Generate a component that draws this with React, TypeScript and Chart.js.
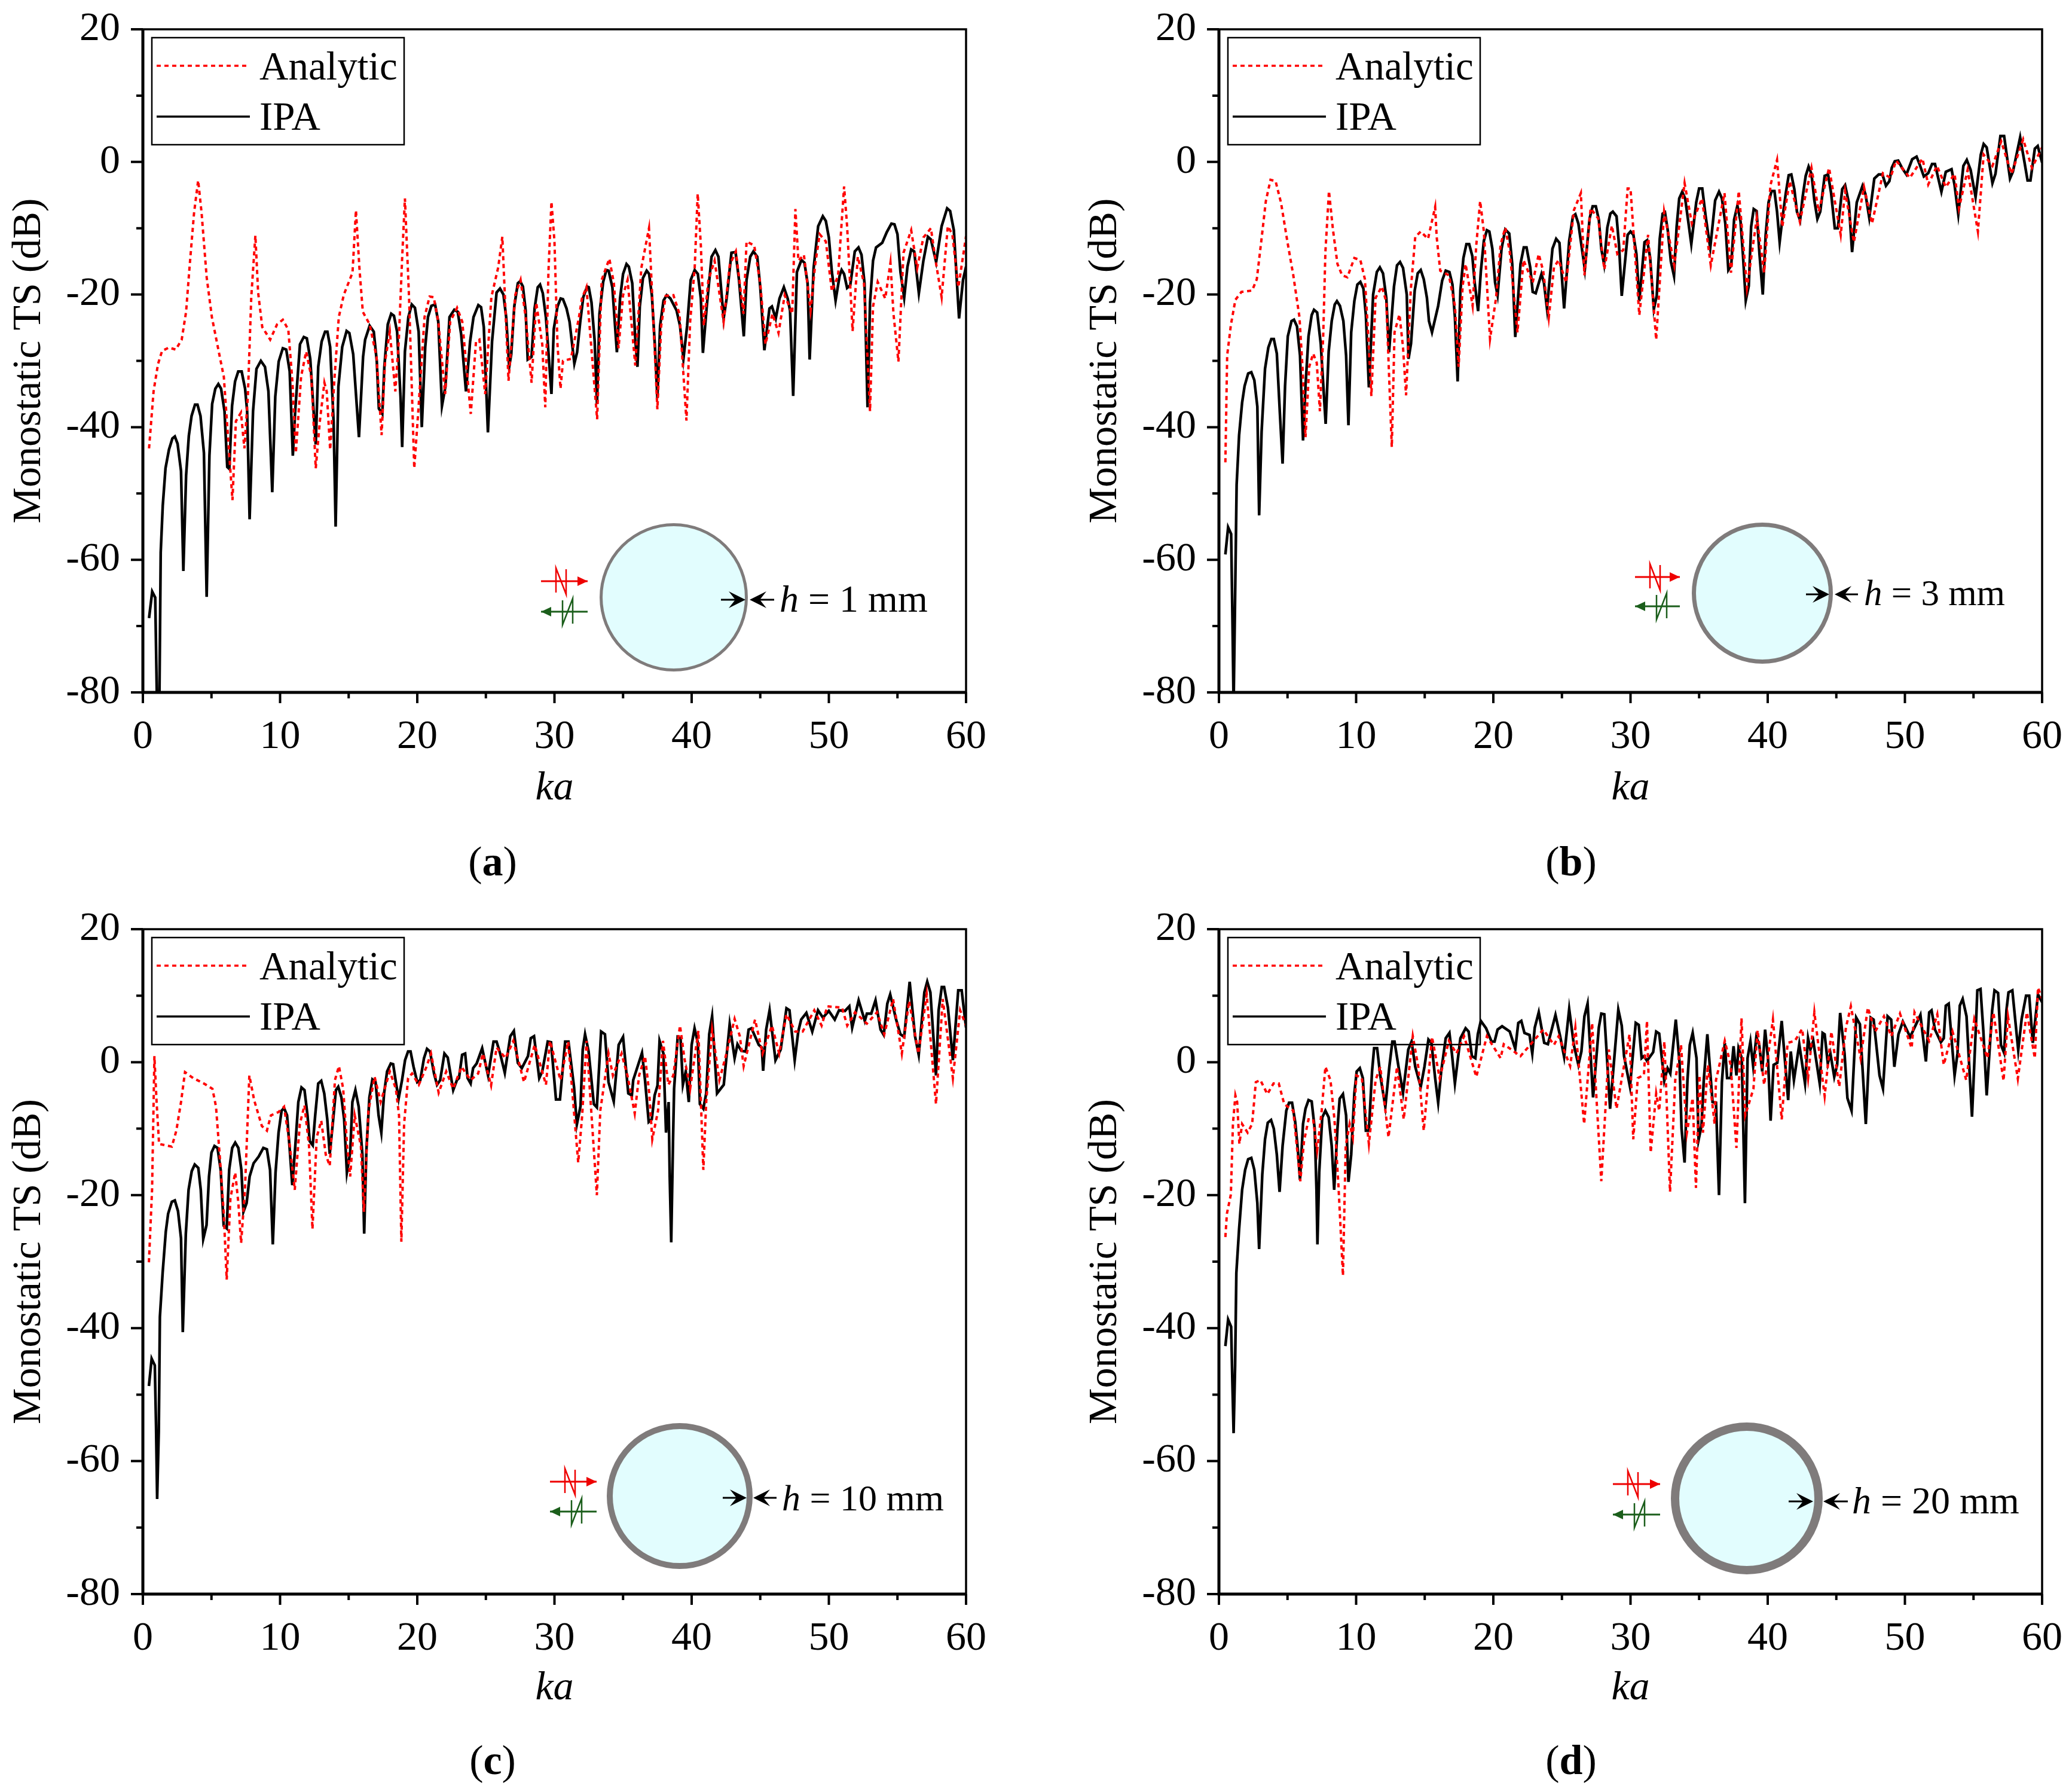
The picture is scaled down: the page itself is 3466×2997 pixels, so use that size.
import React, { useEffect, useRef } from 'react';
import { Chart, registerables } from 'chart.js';

Chart.register(...registerables);

type Pt = [number, number];

// values: [ka, TS in dB]
const ipaA: Pt[] = [[.45,-68.8],[.68,-64.8],[.9,-65.7],[1.03,-82],[1.2,-82],[1.3,-58.9],[1.45,-51.8],[1.65,-46.2],[1.9,-43.4],[2.15,-41.7],[2.33,-41.4],[2.53,-42.5],[2.78,-46.6],[2.95,-61.7],[3.15,-47.3],[3.35,-41.3],[3.55,-38.3],[3.8,-36.6],[3.98,-36.6],[4.2,-38.3],[4.45,-43.9],[4.65,-65.6],[4.85,-44.3],[5.05,-36.5],[5.28,-34.2],[5.5,-33.5],[5.7,-34.2],[5.95,-37.6],[6.15,-46],[6.3,-46.3],[6.5,-36.8],[6.72,-33.1],[6.95,-31.6],[7.2,-31.6],[7.45,-34.2],[7.6,-37.6],[7.78,-53.9],[8.03,-37.6],[8.28,-31.2],[8.6,-30],[8.9,-30.9],[9.15,-34.6],[9.43,-49.8],[9.65,-35.4],[9.9,-30.1],[10.2,-28.1],[10.45,-28.3],[10.7,-31.6],[10.93,-44.3],[11.1,-37.6],[11.45,-27.5],[11.73,-26.4],[11.95,-26.6],[12.2,-29.7],[12.6,-42.6],[12.78,-30.9],[13.03,-27.1],[13.28,-25.6],[13.45,-25.6],[13.65,-27.9],[13.9,-39.1],[14.05,-55],[14.25,-33.9],[14.53,-27.9],[14.85,-25.5],[15.05,-25.8],[15.33,-29],[15.75,-41.5],[16.05,-29.4],[16.2,-26.8],[16.53,-24.7],[16.83,-25.6],[17.05,-30.1],[17.2,-37.2],[17.45,-38],[17.6,-30.9],[17.85,-24.5],[18.1,-22.9],[18.3,-23.2],[18.53,-25.6],[18.78,-35.4],[18.9,-43],[19.1,-28.6],[19.35,-23.4],[19.6,-21.5],[19.83,-22],[20.1,-25.6],[20.33,-40],[20.58,-27.9],[20.78,-23.4],[21.03,-21.7],[21.3,-21.5],[21.53,-24.1],[21.8,-36.8],[22.05,-33.9],[22.35,-23.4],[22.7,-22.3],[22.95,-22.6],[23.2,-26],[23.55,-34.6],[23.85,-27.1],[24.1,-23.4],[24.45,-21.6],[24.65,-21.9],[24.85,-24.9],[25.15,-40.8],[25.45,-27.1],[25.78,-19.7],[26.03,-19.1],[26.28,-20],[26.48,-23.4],[26.7,-30.9],[26.85,-29],[27.07,-21.8],[27.33,-18.3],[27.5,-18],[27.7,-18.8],[27.9,-22.4],[28.05,-29.8],[28.33,-29.4],[28.55,-22.1],[28.78,-18.9],[28.95,-18.5],[29.15,-19.8],[29.38,-23.5],[29.78,-35],[29.95,-25.2],[30.22,-21.8],[30.45,-20.6],[30.62,-20.7],[30.88,-22.1],[31.1,-24.1],[31.45,-30.4],[31.65,-28.7],[31.88,-24.1],[32.1,-20.4],[32.38,-18.8],[32.5,-18.9],[32.7,-21.2],[32.93,-27],[33.1,-36.5],[33.28,-22.9],[33.55,-18.1],[33.78,-16.3],[33.95,-16.4],[34.22,-18.9],[34.55,-28.7],[34.78,-20.6],[35,-16.9],[35.25,-15.4],[35.42,-15.8],[35.67,-18.3],[35.9,-27],[36.05,-30.9],[36.22,-21.8],[36.45,-17.5],[36.72,-16.4],[36.9,-16.9],[37.1,-20.1],[37.33,-28.1],[37.5,-35.6],[37.7,-24.7],[37.95,-20.9],[38.18,-20.1],[38.45,-20.6],[38.9,-22.4],[39.15,-24.7],[39.4,-29.7],[39.67,-24.7],[39.93,-17.8],[40.22,-16.3],[40.45,-16.9],[40.67,-20.6],[40.82,-28.8],[41.1,-21.8],[41.45,-14.3],[41.73,-13.3],[41.95,-14.3],[42.33,-23.6],[42.55,-20.6],[42.9,-13.7],[43.2,-13.6],[43.45,-17.8],[43.8,-26.3],[44,-17.8],[44.27,-14.3],[44.5,-13.5],[44.78,-14.3],[45,-18.9],[45.3,-28.4],[45.67,-22.1],[45.85,-21.8],[46.13,-23.6],[46.4,-20.6],[46.72,-18.9],[47,-20.6],[47.17,-22.4],[47.4,-35.3],[47.67,-16.6],[48,-14.8],[48.22,-15.2],[48.45,-18.3],[48.6,-29.8],[48.89,-16],[49.22,-9.7],[49.56,-8.2],[49.78,-8.9],[50,-11.4],[50.22,-16.6],[50.49,-20.9],[50.78,-17.2],[50.93,-16.3],[51.11,-16.9],[51.33,-19],[51.56,-18.6],[51.89,-13.5],[52.16,-12.9],[52.38,-14],[52.6,-18.3],[52.82,-37],[53,-21.2],[53.22,-14.9],[53.44,-12.9],[53.89,-12.2],[54.22,-10.6],[54.56,-9.3],[54.78,-9.4],[55,-10.9],[55.22,-16.6],[55.49,-20.5],[55.73,-15.8],[56,-13.2],[56.22,-13.5],[56.56,-19.8],[56.89,-14.9],[57.22,-11.3],[57.44,-11.7],[57.82,-15.1],[58.22,-9.7],[58.62,-7],[58.84,-7.4],[59.11,-10.3],[59.49,-23.6],[59.78,-17.8],[60,-15.8]];
const analyticA: Pt[] = [[.45,-43.2],[.78,-34.6],[1.1,-30.5],[1.4,-28.5],[1.9,-28],[2.4,-28.3],[2.83,-26.8],[3.15,-22.6],[3.4,-15.9],[3.73,-7.7],[4.03,-2.8],[4.28,-7.7],[4.65,-17.4],[5.03,-23.4],[5.53,-28.6],[5.9,-32.4],[6.2,-41.3],[6.53,-51],[6.78,-39.1],[7.15,-37.8],[7.4,-43.2],[7.65,-35.4],[7.9,-20.4],[8.2,-11.1],[8.4,-19.7],[8.7,-24.9],[9.28,-26.8],[9.78,-24.5],[10.2,-23.8],[10.6,-25.3],[10.9,-33.1],[11.15,-43.9],[11.53,-32.4],[11.9,-28.6],[12.28,-32.4],[12.6,-46.2],[12.9,-39.1],[13.23,-33.3],[13.4,-34.6],[13.65,-43.4],[13.95,-33.1],[14.28,-23.4],[14.65,-20],[15.28,-16.7],[15.53,-7.3],[15.78,-15.9],[16.03,-22.6],[16.53,-24.5],[17.03,-29.4],[17.4,-41.2],[17.65,-30.1],[18,-25.6],[18.4,-34.6],[18.65,-27.1],[18.9,-14.4],[19.1,-5.5],[19.4,-20.4],[19.78,-46.2],[20.1,-36.8],[20.53,-23.4],[20.9,-20.3],[21.2,-20.4],[21.53,-24.1],[22.03,-35],[22.4,-24.1],[22.9,-22],[23.28,-24.1],[23.9,-38],[24.28,-27.1],[24.53,-26.8],[24.95,-35],[25.4,-20.4],[25.9,-15.9],[26.2,-11.3],[26.65,-33],[27.15,-20],[27.53,-17.8],[27.9,-23.4],[28.33,-33.3],[28.67,-21.2],[29.11,-27.5],[29.33,-37],[29.56,-16.6],[29.78,-6],[30,-12],[30.22,-27.5],[30.44,-34.2],[30.62,-30],[31.2,-29.7],[31.78,-23.5],[32,-20.6],[32.33,-18.9],[33.11,-38.8],[33.44,-17.8],[34,-14.6],[34.33,-18.3],[34.67,-28.1],[35,-20.1],[35.33,-17.8],[35.89,-30.7],[36.33,-16],[36.89,-10],[37.11,-19.5],[37.5,-37.3],[37.78,-24.7],[38.11,-20.2],[38.67,-20.1],[39.11,-22.9],[39.62,-39],[39.89,-24.1],[40.22,-16],[40.44,-4.8],[40.67,-12.6],[40.89,-24.7],[41.22,-17.8],[41.67,-14.9],[42.33,-24.1],[42.78,-15.5],[43.22,-13.5],[43.78,-22.9],[44,-12],[44.56,-12.6],[45,-18.3],[45.38,-27.5],[45.89,-22.9],[46.33,-25.8],[46.78,-20.1],[47.33,-22.9],[47.56,-7.1],[47.78,-14.9],[48.18,-14],[48.67,-22.4],[49,-15.5],[49.33,-10.9],[49.78,-12],[50.22,-19.5],[50.67,-17.2],[51.11,-3.7],[51.33,-9.7],[51.73,-25.5],[52.11,-14.3],[52.56,-18.3],[53,-37.6],[53.22,-21.8],[53.56,-18.1],[54.11,-20.6],[54.49,-15.2],[54.71,-22.9],[55.07,-30.1],[55.44,-13.7],[56,-10.3],[56.44,-16],[56.89,-11.4],[57.44,-10],[57.78,-14.9],[58.22,-20.4],[58.67,-9.7],[59,-10.9],[59.44,-18.9],[60,-11.2]];

const ipaB: Pt[] = [[.47,-59.2],[.67,-55.1],[.89,-56.1],[.98,-68.3],[1.07,-82],[1.2,-62.5],[1.29,-48.7],[1.47,-41.2],[1.69,-36.3],[1.87,-33.8],[2.13,-31.9],[2.36,-31.7],[2.58,-32.9],[2.8,-36.9],[2.93,-53.3],[3.11,-40.7],[3.36,-31.2],[3.6,-28],[3.82,-26.7],[4,-26.7],[4.22,-28.9],[4.44,-37.8],[4.64,-45.5],[4.82,-33.8],[5.02,-26.3],[5.29,-24],[5.47,-23.8],[5.69,-24.8],[5.91,-29.2],[6.13,-42],[6.31,-33.8],[6.53,-26.3],[6.76,-23.1],[6.93,-22.3],[7.16,-22.7],[7.42,-27.4],[7.78,-39.5],[8,-28.6],[8.22,-24],[8.44,-21.5],[8.6,-21],[8.82,-21.7],[9.07,-24],[9.27,-29.2],[9.44,-39.7],[9.64,-25.7],[9.87,-21],[10.09,-18.5],[10.31,-18.1],[10.53,-19.1],[10.71,-23.1],[10.93,-34],[11.24,-20],[11.51,-16.6],[11.73,-15.9],[11.96,-16.8],[12.2,-20.5],[12.4,-28.7],[12.76,-18.8],[12.98,-15.6],[13.2,-15.1],[13.42,-16],[13.69,-20],[13.82,-29.7],[14,-27.4],[14.27,-19.4],[14.49,-16.8],[14.71,-16.3],[14.93,-17.7],[15.16,-20.5],[15.31,-24],[15.53,-25.7],[15.98,-21.7],[16.27,-17.9],[16.53,-16.4],[16.8,-16.6],[17.02,-18.5],[17.2,-23.4],[17.4,-33.1],[17.6,-19.4],[17.82,-14.5],[18.04,-12.4],[18.24,-12.4],[18.47,-14.2],[18.64,-18.2],[18.89,-22.5],[19.09,-16.5],[19.31,-11.9],[19.53,-10.3],[19.71,-10.5],[19.93,-13.1],[20.13,-18.2],[20.31,-20.1],[20.6,-13.1],[20.87,-10.2],[21.16,-10.8],[21.38,-15.4],[21.6,-26.4],[21.98,-15.4],[22.22,-12.9],[22.42,-12.9],[22.69,-15.9],[22.87,-19.6],[23.09,-19.8],[23.51,-16.9],[23.69,-18.2],[23.91,-22.1],[24.31,-13.1],[24.58,-11.6],[24.82,-12.2],[25.16,-22.1],[25.53,-11.9],[25.8,-8.2],[25.98,-7.9],[26.2,-9.3],[26.67,-16.2],[27.02,-8.5],[27.24,-6.7],[27.47,-6.7],[27.69,-8.7],[27.87,-13.1],[28.07,-15.4],[28.31,-9.9],[28.53,-7.8],[28.71,-7.5],[28.98,-8.2],[29.16,-12.5],[29.36,-20.2],[29.79,-11],[30,-10.5],[30.21,-11],[30.43,-13.9],[30.64,-21],[31.02,-12.1],[31.21,-11.8],[31.43,-14.4],[31.7,-22.2],[31.91,-20.2],[32.13,-11.6],[32.34,-7.8],[32.51,-7.6],[32.72,-10.4],[32.94,-15],[33.17,-17.2],[33.36,-9.8],[33.55,-5.5],[33.77,-4.5],[33.98,-5.5],[34.19,-8.7],[34.43,-12.4],[34.79,-6.1],[35,-4],[35.23,-4],[35.47,-8.1],[35.81,-13],[36.17,-5.8],[36.45,-4.5],[36.66,-5.5],[36.91,-9.3],[37.13,-16.3],[37.34,-15.6],[37.55,-8.7],[37.79,-6.6],[38.02,-9],[38.19,-13.9],[38.4,-20.9],[38.62,-18.7],[38.79,-9.8],[38.98,-7.1],[39.19,-7.4],[39.4,-13.9],[39.64,-20],[39.85,-11],[40.06,-6.1],[40.28,-4.4],[40.49,-4.4],[40.68,-7.5],[40.87,-12.1],[41.06,-8.7],[41.32,-4.7],[41.53,-2],[41.72,-1.9],[41.94,-4.1],[42.13,-7.5],[42.36,-8.8],[42.55,-5.2],[42.77,-2.1],[42.98,-.7],[43.19,-1.8],[43.4,-5.8],[43.62,-8.6],[43.83,-7.5],[44.15,-2.1],[44.4,-1.9],[44.62,-4.7],[44.89,-10],[45.11,-10],[45.43,-4.1],[45.64,-3.5],[45.91,-6.1],[46.15,-13.6],[46.49,-6.1],[46.91,-3.6],[47.13,-4.9],[47.4,-8.4],[47.77,-2.5],[48.09,-1.9],[48.36,-1.9],[48.62,-3.6],[48.87,-2.9],[49.04,-.9],[49.26,.1],[49.51,.2],[49.79,-.9],[50.11,-1.9],[50.53,.4],[50.85,.8],[51.06,-.3],[51.38,-2.2],[51.7,-1.7],[51.98,-.3],[52.19,-.3],[52.66,-4.5],[52.98,-1.5],[53.4,-1.1],[53.62,-3.5],[53.89,-7.9],[54.26,-.6],[54.51,.3],[54.79,-1.2],[55.15,-5.3],[55.53,1.1],[55.74,2.7],[55.96,2.2],[56.38,-3.2],[56.6,-1.8],[56.96,3.9],[57.23,3.9],[57.66,-2.5],[57.87,-1.5],[58.4,3.7],[58.72,-.1],[58.94,-2.8],[59.15,-2.8],[59.47,2],[59.68,2.4],[60,-.1]];
const analyticB: Pt[] = [[.47,-45.3],[.6,-29.2],[.87,-24.6],[1.2,-20.8],[1.64,-19.6],[2.42,-19.4],[2.76,-17.7],[3.09,-11.9],[3.42,-5.9],[3.76,-2.7],[4.13,-2.9],[4.53,-6.2],[4.98,-11.9],[5.42,-17.1],[5.87,-23.4],[6.09,-30.9],[6.31,-41.5],[6.58,-30.9],[6.87,-28.9],[7.13,-30.3],[7.36,-37.6],[7.6,-26.3],[7.76,-13.6],[8.02,-4.4],[8.31,-10.2],[8.64,-15.4],[8.98,-17.1],[9.36,-17.4],[9.87,-14.5],[10.31,-14.8],[10.64,-17.7],[10.87,-25.7],[11.11,-35.3],[11.42,-20.5],[11.87,-18.8],[12.2,-21.1],[12.42,-33.2],[12.6,-43],[12.8,-25.7],[13.16,-23],[13.42,-28],[13.64,-35.2],[13.98,-19.4],[14.31,-11.3],[14.71,-10.5],[15.24,-11.6],[15.76,-6.8],[15.87,-11.3],[16.13,-16.4],[16.76,-17.1],[17.2,-21.7],[17.47,-30.9],[17.76,-18.8],[17.98,-15.4],[18.49,-21.7],[18.76,-12.5],[19.04,-5.9],[19.31,-10.5],[19.76,-26.7],[20.2,-20.5],[20.53,-12.5],[20.87,-9.9],[21.2,-13.6],[21.76,-25.7],[22.2,-14.8],[22.87,-18.2],[23.31,-13.9],[23.64,-16.5],[24.04,-23.5],[24.42,-15.9],[24.76,-14.8],[25.31,-18.2],[25.87,-7.3],[26.38,-4.7],[26.64,-17.1],[27.09,-7],[27.64,-8.5],[28.09,-16.2],[28.64,-9.6],[29.04,-13.9],[29.47,-13.3],[29.79,-4],[30,-4],[30.21,-10.4],[30.64,-23.1],[31.28,-11],[31.87,-26.8],[32.45,-7.5],[33.19,-15.6],[33.94,-3.2],[34.47,-9.3],[35.21,-5.5],[35.85,-15.6],[36.85,-4.7],[37.32,-16.7],[37.89,-4.4],[38.49,-19],[39.21,-8.4],[39.74,-16.7],[40.2,-3.5],[40.68,.3],[41.06,-9.8],[41.6,-2.9],[42.34,-9],[43.19,-.9],[43.72,-7.5],[44.47,-.9],[45.32,-11],[45.64,-4.4],[46.28,-12.1],[47.02,-3.8],[47.6,-9.3],[48.4,-1.7],[48.94,-2.4],[49.36,.2],[50.36,-2.4],[51.28,.5],[51.7,-3.4],[52.34,-.6],[52.98,-3.8],[53.62,-1.8],[53.94,-7],[54.57,-1.2],[55.32,-10.5],[55.74,1.1],[56.38,-.6],[57.02,3.1],[57.77,-1.8],[58.62,3.4],[59.26,-.9],[60,2.2]];

const ipaC: Pt[] = [[.44,-48.7],[.64,-44.6],[.87,-45.6],[.96,-54.8],[1.04,-65.7],[1.16,-55.5],[1.24,-38.3],[1.44,-31.7],[1.67,-25.5],[1.84,-22.8],[2.11,-21],[2.33,-20.8],[2.56,-22.4],[2.78,-26.5],[2.91,-40.6],[3.13,-25.8],[3.33,-19.2],[3.56,-16.4],[3.78,-15.4],[4.04,-15.9],[4.22,-19.2],[4.4,-26.6],[4.64,-24.5],[4.82,-17.2],[5,-13.6],[5.22,-12.6],[5.44,-12.9],[5.67,-16.2],[5.89,-24.6],[6.11,-25],[6.29,-16.2],[6.51,-12.9],[6.73,-12.1],[6.96,-12.9],[7.18,-16.2],[7.33,-22.5],[7.56,-21.2],[7.78,-17.2],[8.07,-15.2],[8.44,-14.2],[8.78,-12.9],[9.04,-13.1],[9.27,-16.2],[9.47,-27.4],[9.67,-16.6],[9.89,-10.6],[10.11,-7.3],[10.29,-6.9],[10.51,-8],[10.71,-13.3],[10.89,-18.5],[11.11,-12.6],[11.33,-6],[11.56,-3.8],[11.78,-4.2],[12,-8],[12.16,-11.9],[12.38,-12.5],[12.56,-8],[12.78,-3.2],[13,-2.8],[13.22,-4.7],[13.44,-8.6],[13.62,-13.8],[13.84,-9.3],[14.07,-4.2],[14.24,-3.7],[14.47,-5.3],[14.67,-8.6],[14.87,-16.6],[15.11,-13.6],[15.27,-6],[15.49,-4.2],[15.73,-6.7],[16,-13.9],[16.13,-25.8],[16.29,-13.3],[16.51,-5.3],[16.73,-2.6],[16.96,-3],[17.18,-8],[17.38,-10.6],[17.58,-4.7],[17.8,-1.4],[18.07,-.2],[18.24,-.3],[18.47,-3.4],[18.64,-5.5],[18.89,-2.7],[19.11,.3],[19.33,1.6],[19.51,1.6],[19.73,-.7],[20,-3],[20.22,-2.7],[20.49,.6],[20.71,2],[20.93,1.6],[21.22,-1.7],[21.44,-3.4],[21.67,-2.7],[21.98,1.3],[22.22,.7],[22.44,-2],[22.62,-4.2],[22.89,-2.7],[23.04,-2.4],[23.27,1.1],[23.49,1.3],[23.67,-2.4],[23.89,-3.2],[24.07,-.9],[24.33,-.2],[24.73,2.1],[24.96,-.1],[25.16,-2],[25.56,3.1],[25.78,3.1],[26.04,1.3],[26.38,-1.6],[26.78,3.9],[27.04,4.7],[27.33,-.1],[27.62,-.9],[28.07,.9],[28.27,3.6],[28.51,3.9],[28.89,-2.4],[29.11,-1.4],[29.51,3.1],[29.75,3],[30.11,-5.6],[30.4,-5.6],[30.78,3.1],[31.02,3.1],[31.43,-3.8],[31.63,-9.4],[31.9,-6.6],[32.06,1.9],[32.23,4.2],[32.49,1.6],[32.87,-6.3],[33.09,-6.8],[33.4,4.6],[33.68,4.2],[33.94,-3],[34.32,-5.9],[34.68,2.6],[35,3.8],[35.38,-4.7],[35.64,-5],[35.74,-2.7],[36.38,1.4],[36.6,-2.7],[36.87,-9],[37.09,-8.6],[37.3,-5],[37.51,-3.5],[37.66,3.2],[37.94,1.3],[38.13,-10.6],[38.32,-6],[38.4,-17.2],[38.51,-27.1],[38.64,-11.9],[38.72,-4],[38.98,3.8],[39.19,3.6],[39.36,-3.4],[39.57,-1.4],[39.79,-6],[40,2.6],[40.21,5.1],[40.45,2.9],[40.6,-6.3],[40.85,-7],[41.06,-4.7],[41.28,4.2],[41.49,6.9],[41.85,-4.7],[42.34,-3.4],[42.77,5.7],[43.13,.6],[43.34,2.7],[43.62,1.7],[43.94,1.6],[44.15,4.9],[44.36,5.1],[44.89,2.6],[45.11,2.2],[45.21,-1.3],[45.43,4.9],[45.68,7.8],[46.11,.3],[46.49,1.9],[46.91,8.1],[47.13,7.8],[47.51,.3],[47.77,4.6],[47.98,6.4],[48.36,7.4],[48.79,4.6],[49.21,7.8],[49.57,6.7],[50,7.7],[50.43,6.4],[50.74,7.8],[51.17,7.7],[51.49,8.4],[51.7,5.2],[52.17,9.3],[52.62,6.2],[52.77,7.3],[53.09,7.3],[53.4,9.3],[53.77,4.9],[54,4.1],[54.26,8.8],[54.47,10.2],[54.89,6.5],[55.21,4.2],[55.49,3.8],[55.89,12.1],[56.28,3.9],[56.55,1.1],[56.96,10.5],[57.17,12.1],[57.4,10.5],[57.81,-2],[58,7.8],[58.23,11.3],[58.4,11.3],[58.68,8.2],[59.04,.3],[59.43,10.8],[59.68,10.8],[59.85,7.8],[60,5.2]];
const analyticC: Pt[] = [[.44,-30.1],[.67,-19.2],[.84,.9],[1,-6],[1.18,-12.3],[2.11,-12.7],[2.44,-10.3],[2.78,-6],[3.07,-1.5],[3.67,-2.4],[4.44,-3.2],[5.07,-4],[5.33,-6.7],[5.62,-14.6],[5.89,-22.5],[6.11,-32.7],[6.38,-20.5],[6.73,-16.6],[6.96,-21.2],[7.16,-27.2],[7.44,-19.2],[7.76,-2],[8.11,-5.7],[8.67,-9.6],[9.04,-10.3],[9.33,-8],[9.89,-7.5],[10.29,-6.7],[10.67,-11.9],[11.07,-19.2],[11.44,-9.3],[11.78,-6.5],[12.11,-12.6],[12.36,-25.1],[12.67,-11.3],[13,-8.8],[13.33,-13.9],[13.62,-15.6],[14,-2.7],[14.29,-.6],[14.6,-4],[14.89,-12.6],[15.11,-17.2],[15.44,-8],[15.89,-12.6],[16.11,-22.5],[16.44,-7.3],[16.89,-2.2],[17.33,-6],[18,-1.4],[18.44,-4],[18.67,-8],[18.84,-27],[19.04,-9.3],[19.33,-2.4],[19.62,-1.7],[20.11,-3.4],[20.67,-.7],[21,1.3],[21.56,-4.6],[22.11,-1.4],[22.62,-4],[23.22,-.7],[23.89,-2.7],[24.44,-1.7],[24.78,1.3],[25.38,-3.5],[25.78,2.2],[26.44,.6],[27,3.2],[27.78,-3],[28.56,2.6],[29.38,-3.4],[29.67,3.2],[30.44,-2.7],[31,3.1],[31.73,-15.1],[32.02,-8],[32.34,3.2],[33.09,-20],[33.34,-7.3],[33.94,1.3],[34.26,-2],[34.89,1.3],[35.32,-2],[35.85,-7.7],[36.17,-2],[36.6,.9],[36.91,-4.7],[37.13,-11.6],[37.55,-7.3],[37.91,3.2],[38.3,-3.4],[38.66,-2],[39.15,5.5],[39.47,.6],[39.89,-4],[40.49,4.7],[40.85,-16.2],[41.06,-6],[41.49,4.9],[42.02,-2.7],[42.45,.6],[43.13,6.5],[43.51,3.9],[43.79,-.6],[44.62,6.4],[45.17,1.3],[45.85,5.5],[46.38,1.3],[46.91,7.2],[47.55,4.6],[48.09,4.6],[48.94,7.8],[49.47,5.5],[49.89,8.4],[50.96,8.2],[51.34,5.5],[51.91,7.5],[52.77,5.8],[53.51,7.5],[54.04,4.2],[54.68,9.5],[55.32,1.3],[55.85,9.2],[56.53,1.3],[57.13,10.2],[57.81,-6.3],[58.3,9.5],[59.04,-2.4],[59.57,7.8],[60,5.5]];

const ipaD: Pt[] = [[.47,-42.7],[.67,-38.7],[.89,-39.8],[.98,-48.2],[1.07,-55.8],[1.18,-45.6],[1.27,-31.7],[1.47,-25.1],[1.69,-19.2],[1.91,-16.2],[2.13,-14.6],[2.36,-14.4],[2.58,-16.2],[2.8,-21.2],[2.93,-28.1],[3.16,-16.9],[3.36,-11.6],[3.56,-9.1],[3.8,-8.7],[4,-10],[4.22,-13.9],[4.42,-19.5],[4.64,-12.6],[4.91,-7.3],[5.11,-6.1],[5.33,-6.1],[5.56,-9],[5.76,-13.3],[5.91,-17.7],[6.13,-9.3],[6.31,-7],[6.53,-5.7],[6.76,-5.9],[6.98,-10],[7.11,-19.2],[7.18,-27.4],[7.31,-16.6],[7.53,-8.3],[7.76,-7.3],[8,-8.3],[8.22,-12.6],[8.4,-19.2],[8.64,-10],[8.8,-5.5],[9.04,-4.8],[9.27,-8],[9.44,-18],[9.64,-13.9],[9.87,-4.7],[10.04,-1.4],[10.27,-.9],[10.49,-2.4],[10.71,-10.3],[10.93,-10.3],[11.16,-1.4],[11.31,2.1],[11.53,2.1],[11.76,-2],[12.13,-6.7],[12.42,-.7],[12.64,3.1],[12.8,3.1],[13.09,-.7],[13.42,-4.6],[13.8,1.9],[14.04,3.1],[14.31,-.7],[14.71,-3.7],[14.98,-.7],[15.27,3.4],[15.49,2.9],[15.76,-2.4],[15.98,-6.1],[16.2,-1.4],[16.53,3.6],[16.8,4.4],[16.98,1.3],[17.2,-3.2],[17.6,3.6],[17.98,5.1],[18.2,4.6],[18.44,.9],[18.69,.6],[18.87,4.2],[19.09,6.2],[19.47,5.1],[19.87,3.1],[20.09,3.1],[20.31,4.9],[20.64,5.4],[21.2,4.6],[21.6,2],[21.82,5.9],[22.04,6.2],[22.27,4.4],[22.64,4.1],[22.84,1.3],[23.02,5.2],[23.31,7.5],[23.71,2.9],[23.98,2.7],[24.53,7.1],[24.87,3.9],[25.16,.8],[25.53,8],[25.87,2.6],[26.2,-.4],[26.42,1.6],[26.64,6.9],[26.87,8.8],[27.27,-5.3],[27.69,5.2],[27.87,7.3],[28.09,7.2],[28.51,-7],[29.11,7.9],[29.36,5.5],[29.53,.9],[29.96,-3.7],[30.38,5.9],[30.6,5.6],[30.81,.6],[30.98,.9],[31.2,.2],[31.65,1.5],[31.87,4.6],[32.09,4.3],[32.46,-2.8],[32.7,-.9],[32.9,-1.7],[33.3,6.4],[33.57,0],[33.72,-10],[33.94,-15.1],[34.15,-2.7],[34.32,2.6],[34.53,4.4],[34.81,.6],[34.96,-11.7],[35.17,-9.6],[35.34,-2.7],[35.6,4.2],[35.98,-6],[36.23,-6.1],[36.45,-20],[36.66,-3],[36.87,2.9],[37.04,-2.4],[37.3,-2.4],[37.51,2.4],[37.72,-2],[37.87,2.1],[38.11,.6],[38.34,-21.2],[38.53,.6],[38.74,3.1],[38.94,-.6],[39.17,3.8],[39.38,2.6],[39.6,-1.4],[39.81,4.9],[40.02,.6],[40.21,-8.8],[40.43,-.4],[40.7,-.1],[41.02,6.2],[41.49,-5.7],[41.68,1.6],[41.91,-2.7],[42.3,2.7],[42.72,-3.2],[42.94,3.6],[43.11,1.9],[43.32,3.2],[43.79,-3.2],[44,4.4],[44.15,4.2],[44.38,-.2],[44.57,1.3],[44.85,-2.2],[45.06,-.4],[45.28,7.4],[45.6,1.3],[45.81,-5.4],[46.11,-7.3],[46.45,6.7],[46.72,5.7],[47.15,-9.3],[47.51,6.7],[47.72,6.4],[48.15,-2],[48.4,-4],[48.74,6.9],[49,6.4],[49.23,-.7],[49.53,4.2],[49.85,6.1],[50.38,3.8],[51.13,7.1],[51.53,.1],[51.77,7.5],[51.94,7.8],[52.19,4.9],[52.62,3],[52.83,3.6],[52.98,8.5],[53.19,8.8],[53.62,-2],[53.83,1.3],[54,8.5],[54.21,9.5],[54.49,6.9],[54.89,-8.2],[55.17,5.2],[55.28,10.8],[55.51,11],[55.72,4.6],[55.96,-5],[56.36,7.8],[56.53,10.8],[56.79,10.4],[57,2.6],[57.23,1.4],[57.4,7.8],[57.55,10.5],[57.83,10.8],[58.26,1.8],[58.51,6.5],[58.83,10],[59.06,10],[59.32,2.9],[59.7,10.2],[60,9]];
const analyticD: Pt[] = [[.47,-26.3],[.58,-22.8],[.87,-19.9],[1.02,-9.3],[1.2,-5],[1.33,-6],[1.49,-12.3],[1.69,-9.3],[2.09,-10.6],[2.42,-9.3],[2.69,-3],[3.02,-2.7],[3.53,-4.8],[3.98,-3.2],[4.36,-3.2],[4.76,-6.3],[5.42,-7.3],[5.93,-17.9],[6.2,-11.9],[6.53,-8.6],[6.87,-8.6],[7.16,-13.3],[7.49,-7.3],[7.76,-.7],[8.13,-2.7],[8.42,-8.6],[8.71,-18.5],[9.04,-32.1],[9.24,-12.6],[9.53,-9.3],[9.76,-11.3],[10.02,-2],[10.42,-2.4],[10.93,-12.3],[11.42,-2.7],[11.76,-.7],[12.36,-11.3],[12.98,-.7],[13.47,-8.6],[14.13,3.9],[14.53,-.7],[14.93,-10.3],[15.53,3.8],[16.09,-2.4],[16.76,3.2],[17.31,1.3],[17.87,3.9],[18.76,-2.2],[19.53,3.9],[20.53,.6],[20.76,2.7],[21.98,.9],[23.64,4.9],[24.42,2.6],[24.76,3.9],[25.6,-.6],[25.98,5.2],[26.62,-9.3],[27.2,5.9],[27.87,-17.9],[28.42,1.9],[28.98,-7],[29.93,4.2],[30.2,-11.6],[30.53,-2.4],[30.98,-1.9],[31.2,6.2],[31.47,-13.6],[31.87,-4.7],[32.09,-7.3],[32.47,3.1],[32.88,-19.5],[33.26,-2.7],[33.68,2.6],[34.11,-10.6],[34.53,-5.4],[34.77,-18.9],[35.02,-2],[35.28,-10.6],[35.64,-.4],[36.13,-9.3],[36.23,-2.7],[36.87,3.2],[37.3,-.4],[37.72,-12.9],[38.09,6.6],[38.36,-8],[38.96,-4],[39.26,4.8],[39.74,-3.4],[40.38,6.4],[41.02,-8.6],[41.45,2.9],[41.98,3.2],[42.51,5],[42.94,-2.4],[43.4,7.5],[44.15,-5.1],[44.64,4.6],[45.21,-3.7],[45.7,5.2],[46.06,8.4],[46.77,.6],[47.3,8.2],[47.83,4.6],[48.47,6.9],[49,3.9],[49.64,7.3],[50.49,2.1],[50.7,7.5],[51.77,3.2],[52.36,7.2],[52.83,-.4],[53.47,4.6],[54.47,-2.7],[55.06,6.5],[56.02,.6],[56.45,7.5],[57.19,-2.8],[57.51,6.9],[58.23,-2.5],[58.89,7.5],[59.47,.6],[59.7,11.2],[60,9.5]];

const seriesLabels = ['Analytic', 'IPA'];
const captions = ['a', 'b', 'c', 'd'];
const FONT = '"Liberation Serif", serif';

// page layout of each panel (px on the 3466x2997 page)
const panels = [
  { analytic: analyticA, ipa: ipaA, plot: { l: 239, r: 1616, t: 49, b: 1158 }, capX: 824, capY: 1441,
    inset: { cx: 1127, cy: 999, r: 124, sw: 5, sigL: 905, sigR: 983, redY: 972, greenY: 1023, a0: 1206, a1: 1247, b0: 1295, b1: 1254, arrY: 1003, textX: 1304, textY: 1023, fs: 64, label: ' = 1 mm' } },
  { analytic: analyticB, ipa: ipaB, plot: { l: 2039, r: 3416, t: 49, b: 1158 }, capX: 2628, capY: 1441,
    inset: { cx: 2948, cy: 992, r: 118, sw: 7, sigL: 2735, sigR: 2810, redY: 965, greenY: 1014, a0: 3021, a1: 3060, b0: 3108, b1: 3069, arrY: 994, textX: 3118, textY: 1012, fs: 61, label: ' = 3 mm' } },
  { analytic: analyticC, ipa: ipaC, plot: { l: 239, r: 1616, t: 1554, b: 2666 }, capX: 824, capY: 2944,
    inset: { cx: 1137, cy: 2502, r: 122, sw: 10, sigL: 920, sigR: 998, redY: 2478, greenY: 2528, a0: 1209, a1: 1249, b0: 1299, b1: 1260, arrY: 2505, textX: 1308, textY: 2526, fs: 62, label: ' = 10 mm' } },
  { analytic: analyticD, ipa: ipaD, plot: { l: 2039, r: 3416, t: 1554, b: 2666 }, capX: 2628, capY: 2944,
    inset: { cx: 2922, cy: 2506, r: 127, sw: 14, sigL: 2698, sigR: 2777, redY: 2482, greenY: 2533, a0: 2992, a1: 3033, b0: 3091, b1: 3050, arrY: 2511, textX: 3098, textY: 2531, fs: 64, label: ' = 20 mm' } },
];

const CANVAS_W = 1667;
const CANVAS_H = 1390;

// little sawtooth signal symbol with an arrow head
function drawSignal(ctx: CanvasRenderingContext2D, x0: number, x1: number, y: number, color: string, toRight: boolean) {
  ctx.strokeStyle = color;
  ctx.fillStyle = color;
  ctx.lineWidth = 3;
  ctx.beginPath();
  ctx.moveTo(x0, y);
  ctx.lineTo(x1, y);
  ctx.stroke();
  const tip = toRight ? x1 : x0;
  const dir = toRight ? -1 : 1;
  ctx.beginPath();
  ctx.moveTo(tip, y);
  ctx.lineTo(tip + dir * 17, y - 8);
  ctx.lineTo(tip + dir * 17, y + 8);
  ctx.closePath();
  ctx.fill();
  const a = x0 + (toRight ? 25 : 36);
  const b = a + 17;
  const s = toRight ? 1 : -1;
  ctx.lineWidth = 2.5;
  ctx.beginPath();
  ctx.moveTo(a, y + s * 19);
  ctx.lineTo(a, y - s * 22);
  ctx.lineTo(b, y + s * 22);
  ctx.lineTo(b, y - s * 20);
  ctx.stroke();
}

function drawStealth(ctx: CanvasRenderingContext2D, from: number, to: number, y: number) {
  const dir = to > from ? -1 : 1;
  ctx.strokeStyle = '#000';
  ctx.fillStyle = '#000';
  ctx.lineWidth = 3;
  ctx.beginPath();
  ctx.moveTo(from, y);
  ctx.lineTo(to + dir * 8, y);
  ctx.stroke();
  ctx.beginPath();
  ctx.moveTo(to, y);
  ctx.lineTo(to + dir * 28, y - 14);
  ctx.lineTo(to + dir * 17, y);
  ctx.lineTo(to + dir * 28, y + 14);
  ctx.closePath();
  ctx.fill();
}

const decorations = {
  id: 'decorations',
  afterDraw(chart: any, _args: any, opts: any) {
    const { ctx, chartArea: area, scales } = chart;
    ctx.save();

    // minor and major ticks
    ctx.strokeStyle = '#000';
    ctx.lineWidth = 4;
    ctx.beginPath();
    for (let v = -80; v <= 20; v += 10) {
      const y = scales.y.getPixelForValue(v);
      const len = v % 20 === 0 ? 20 : 11;
      ctx.moveTo(area.left - len, y);
      ctx.lineTo(area.left, y);
    }
    for (let v = 0; v <= 60; v += 5) {
      const x = scales.x.getPixelForValue(v);
      const len = v % 10 === 0 ? 18 : 10;
      ctx.moveTo(x, area.bottom);
      ctx.lineTo(x, area.bottom + len);
    }
    ctx.stroke();

    // frame
    ctx.lineWidth = 3.5;
    ctx.strokeRect(area.left, area.top, area.right - area.left, area.bottom - area.top);
    ctx.lineWidth = 5;
    ctx.beginPath();
    ctx.moveTo(area.left, area.top);
    ctx.lineTo(area.left, area.bottom);
    ctx.lineTo(area.right, area.bottom);
    ctx.stroke();

    // legend
    const lx = area.left + 15;
    const ly = area.top + 14;
    ctx.lineWidth = 2.5;
    ctx.strokeRect(lx, ly, 422, 179);
    const rows = [
      { off: 61, base: 84 },
      { off: 146, base: 168 },
    ];
    chart.data.datasets.forEach((ds: any, i: number) => {
      ctx.strokeStyle = ds.borderColor;
      ctx.lineWidth = 3.5;
      ctx.setLineDash(ds.borderDash || []);
      ctx.beginPath();
      ctx.moveTo(area.left + 23, area.top + rows[i].off);
      ctx.lineTo(area.left + 179, area.top + rows[i].off);
      ctx.stroke();
      ctx.setLineDash([]);
      ctx.fillStyle = '#000';
      ctx.font = `67px ${FONT}`;
      ctx.textAlign = 'left';
      ctx.textBaseline = 'alphabetic';
      ctx.fillText(ds.label, area.left + 195, area.top + rows[i].base);
    });

    // inset drawing, in page coordinates
    const ins = opts.inset;
    ctx.translate(-opts.originX, -opts.originY);
    ctx.beginPath();
    ctx.arc(ins.cx, ins.cy, ins.r - ins.sw / 2, 0, Math.PI * 2);
    ctx.fillStyle = '#E2FDFE';
    ctx.fill();
    ctx.strokeStyle = '#7F7B7B';
    ctx.lineWidth = ins.sw;
    ctx.stroke();
    drawSignal(ctx, ins.sigL, ins.sigR, ins.redY, '#EE0000', true);
    drawSignal(ctx, ins.sigL, ins.sigR, ins.greenY, '#1B5E1B', false);
    drawStealth(ctx, ins.a0, ins.a1, ins.arrY);
    drawStealth(ctx, ins.b0, ins.b1, ins.arrY);
    ctx.fillStyle = '#000';
    ctx.textAlign = 'left';
    ctx.textBaseline = 'alphabetic';
    ctx.font = `italic ${ins.fs}px ${FONT}`;
    ctx.fillText('h', ins.textX, ins.textY);
    const w = ctx.measureText('h').width;
    ctx.font = `${ins.fs}px ${FONT}`;
    ctx.fillText(ins.label, ins.textX + w, ins.textY);
    ctx.restore();
  },
};

const TSPanel: React.FC<{ index: number }> = ({ index }) => {
  const canvasRef = useRef<HTMLCanvasElement | null>(null);
  const panel = panels[index];
  const originX = panel.plot.l - 239;
  const originY = panel.plot.t - 49;

  useEffect(() => {
    if (!canvasRef.current) return;
    const plotBottom = panel.plot.b - originY;
    const toXY = (pts: Pt[]) => pts.map(p => ({ x: p[0], y: p[1] }));

    // pin the plot box: no extra room for the half labels at the axis ends
    const pinX = (s: any) => {
      s.height = CANVAS_H - plotBottom;
      s.paddingLeft = 0;
      s.paddingRight = 0;
    };
    const pinY = (s: any) => {
      s.width = 239;
      s.paddingTop = 0;
      s.paddingBottom = 0;
    };

    const chart = new Chart(canvasRef.current, {
      type: 'line',
      data: {
        datasets: [
          { label: seriesLabels[0], data: toXY(panel.analytic), borderColor: '#FF0000', borderWidth: 4, borderDash: [7, 6], pointRadius: 0, tension: 0 },
          { label: seriesLabels[1], data: toXY(panel.ipa), borderColor: '#000000', borderWidth: 4.5, pointRadius: 0, tension: 0 },
        ],
      },
      options: {
        animation: false,
        responsive: false,
        devicePixelRatio: 1,
        layout: { padding: { left: 0, top: 49, right: CANVAS_W - 239 - 1377, bottom: 0 } },
        plugins: {
          legend: { display: false },
          tooltip: { enabled: false },
          decorations: { inset: panel.inset, originX, originY },
        },
        scales: {
          x: {
            type: 'linear',
            min: 0,
            max: 60,
            afterFit: pinX,
            grid: { display: false, drawTicks: false },
            border: { display: false },
            ticks: { stepSize: 10, padding: 34, color: '#000', font: { family: FONT, size: 68 }, maxRotation: 0 },
            title: { display: true, text: 'ka', color: '#000', font: { family: FONT, size: 68, style: 'italic' }, padding: { top: 0, bottom: 30 } },
          },
          y: {
            type: 'linear',
            min: -80,
            max: 20,
            afterFit: pinY,
            grid: { display: false, drawTicks: false },
            border: { display: false },
            ticks: { stepSize: 20, padding: 38, color: '#000', font: { family: FONT, size: 68 } },
            title: { display: true, text: 'Monostatic TS (dB)', color: '#000', font: { family: FONT, size: 68 }, padding: { top: 8, bottom: 0 } },
          },
        },
      } as any,
      plugins: [decorations],
    });

    return () => {
      chart.destroy();
    };
  }, []);

  return (
    <>
      <canvas
        ref={canvasRef}
        width={CANVAS_W}
        height={CANVAS_H}
        style={{ position: 'absolute', left: originX, top: originY, width: CANVAS_W, height: CANVAS_H }}
      />
      <div
        style={{
          position: 'absolute',
          left: panel.capX,
          top: panel.capY,
          transform: 'translate(-50%, -50%)',
          fontFamily: FONT,
          fontSize: 70,
          lineHeight: 1,
          color: '#000',
        }}
      >
        (<b>{captions[index]}</b>)
      </div>
    </>
  );
};

export default function App() {
  return (
    <div style={{ position: 'absolute', left: 0, top: 0, width: 3466, height: 2997, background: '#fff', overflow: 'hidden' }}>
      {panels.map((_, i) => (
        <TSPanel key={i} index={i} />
      ))}
    </div>
  );
}
